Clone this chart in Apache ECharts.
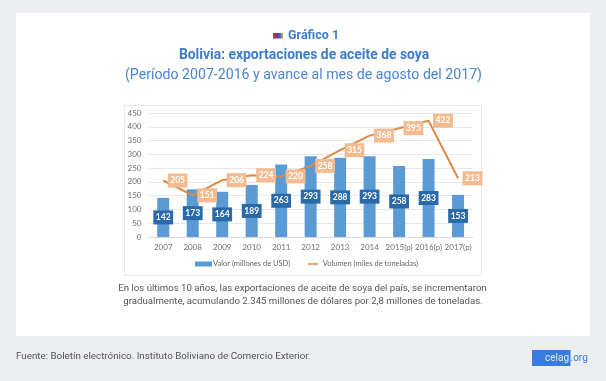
<!DOCTYPE html>
<html><head><meta charset="utf-8">
<style>html,body{margin:0;padding:0;background:#eceef1}#c{width:606px;height:381px}</style>
<script src="https://cdn.jsdelivr.net/npm/echarts@6/dist/echarts.min.js"></script>
</head><body><div id="c"></div>
<script>
const categories=['2007','2008','2009','2010','2011','2012','2013','2014','2015(p)','2016(p)','2017(p)'];
const valor=[142,173,164,189,263,293,288,293,258,283,153];
const volumen=[205,151,206,224,220,258,315,368,395,422,213];
const yTicks={min:0,max:450,interval:50};
const chart=echarts.init(document.getElementById('c'),null,{renderer:'canvas'});
const T='Roboto,sans-serif', C='Lato,sans-serif';
function txt(x,y,s,size,fill,weight,align,family){return {type:'text',x:x,y:y,z:5,style:{text:s,font:(weight||'normal')+' '+size+'px '+(family||T),fill:fill,textAlign:align||'center',textVerticalAlign:'middle'}};}
chart.setOption({
 backgroundColor:'#eceef1',animation:false,
 grid:{left:148.5,right:133.2,top:113,bottom:144},
 legend:{bottom:108,left:190,itemWidth:17,itemHeight:5,itemGap:18,
  textStyle:{fontFamily:C,fontSize:7.5,color:'#666',padding:[0,0,0,-4]},
  data:[{name:'Valor (millones de USD)',icon:'rect'},{name:'Volumen (miles de toneladas)',icon:'path://M0 0H0V10H0ZM0 3.5H20V6.5H0Z'}]},
 xAxis:{type:'category',data:categories,axisTick:{show:false},axisLine:{lineStyle:{color:'#d9d9d9'}},
  axisLabel:{fontFamily:C,fontSize:8,color:'#707070',margin:6,interval:0}},
 yAxis:{type:'value',min:yTicks.min,max:yTicks.max,interval:yTicks.interval,axisLine:{show:false},axisTick:{show:false},
  splitLine:{lineStyle:{color:'#e8e8e8'}},axisLabel:{fontFamily:C,fontSize:8,color:'#707070',margin:7}},
 series:[
  {name:'Valor (millones de USD)',type:'bar',data:valor,barWidth:12,itemStyle:{color:'#5b9bd5'},
   label:{show:true,position:'inside',color:'#fff',backgroundColor:'#2a6aa8',fontFamily:C,fontSize:8.5,fontWeight:'bold',padding:[3,2.5,2,2.5]}},
  {name:'Volumen (miles de toneladas)',type:'line',data:volumen,symbol:'circle',symbolSize:1,lineStyle:{color:'#dd8a46',width:2},itemStyle:{color:'#dd8a46'},
   labelLayout:{hideOverlap:false},
   label:{show:true,position:'right',distance:4,color:'#fff',backgroundColor:'#f4ba90',fontFamily:C,fontSize:8.5,fontWeight:'bold',padding:[3,2.5,2,2.5]}}
 ],
 graphic:[
  {type:'rect',z:-3,shape:{x:16,y:13,width:574,height:323},style:{fill:'#fff'}},
  {type:'rect',z:-2,shape:{x:124.5,y:105.5,width:357,height:170},style:{fill:'#fff',stroke:'#e9e9e9',lineWidth:1}},
  {type:'rect',z:5,shape:{x:273,y:33,width:10,height:5.5},style:{fill:{type:'linear',x:0,y:0,x2:1,y2:0,colorStops:[{offset:0,color:'#d33a2c'},{offset:.4,color:'#7a2f8f'},{offset:.7,color:'#2f6fbf'},{offset:1,color:'#e9b93a'}]}}},
  txt(288,36,'Gráfico 1',12.5,'#3d7ccb','bold','left'),
  txt(304,56,'Bolivia: exportaciones de aceite de soya',13.9,'#3d7ccb','bold'),
  txt(303.5,75,'(Período 2007-2016 y avance al mes de agosto del 2017)',14.15,'#4b84cf'),
  txt(302.5,288.5,'En los últimos 10 años, las exportaciones de aceite de soya del país, se incrementaron',9.65,'#555'),
  txt(303,301.5,'gradualmente, acumulando 2.345 millones de dólares por 2,8 millones de toneladas.',9.65,'#555'),
  txt(16,356.5,'Fuente: Boletín electrónico. Instituto Boliviano de Comercio Exterior.',9.8,'#555','normal','left'),
  {type:'rect',z:4,shape:{x:532,y:350,width:38.5,height:16},style:{fill:'#3a7bde'}},
  txt(545,358.5,'celag',10,'#dce8fb','normal','left'),
  txt(570.5,358.5,'.org',10,'#3a7bde','normal','left')
 ]
});
</script></body></html>
